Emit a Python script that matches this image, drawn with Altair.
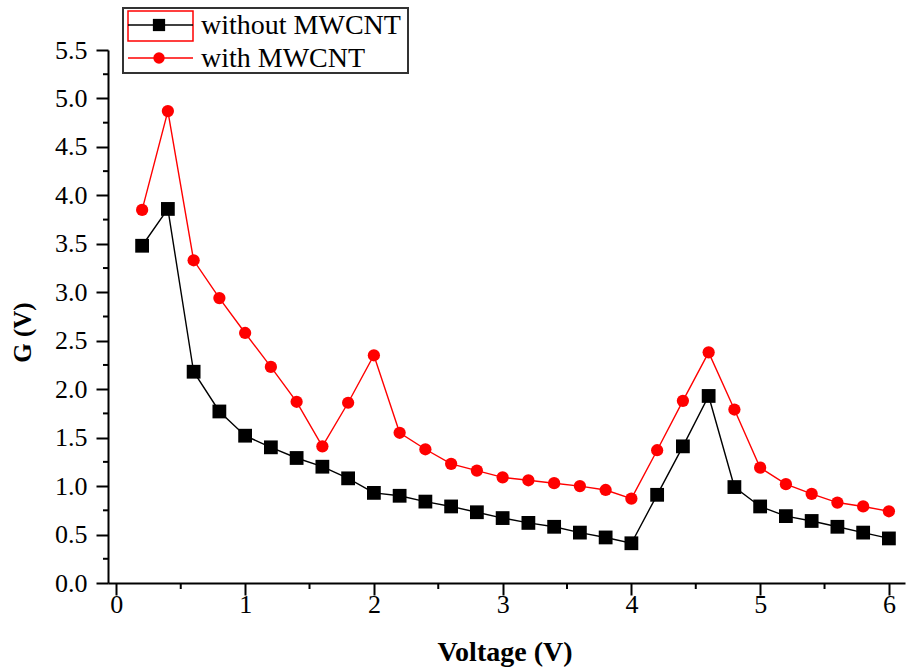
import altair as alt
import pandas as pd

# ---- data ----
voltage = [0.2, 0.4, 0.6, 0.8, 1.0, 1.2, 1.4, 1.6, 1.8, 2.0,
           2.2, 2.4, 2.6, 2.8, 3.0, 3.2, 3.4, 3.6, 3.8, 4.0,
           4.2, 4.4, 4.6, 4.8, 5.0, 5.2, 5.4, 5.6, 5.8, 6.0]
without_mwcnt = [3.48, 3.86, 2.18, 1.77, 1.52, 1.40, 1.29, 1.20, 1.08, 0.93,
                 0.90, 0.84, 0.79, 0.73, 0.67, 0.62, 0.58, 0.52, 0.47, 0.41,
                 0.91, 1.41, 1.93, 0.99, 0.79, 0.69, 0.64, 0.58, 0.52, 0.46]
with_mwcnt = [3.85, 4.87, 3.33, 2.94, 2.58, 2.23, 1.87, 1.41, 1.86, 2.35,
              1.55, 1.38, 1.23, 1.16, 1.09, 1.06, 1.03, 1.00, 0.96, 0.87,
              1.37, 1.88, 2.38, 1.79, 1.19, 1.02, 0.92, 0.83, 0.79, 0.74]
series_names = ["without MWCNT", "with MWCNT"]
series_colors = ["#000000", "#ff0000"]

x_major = [0, 1, 2, 3, 4, 5, 6]
x_minor = [0.5, 1.5, 2.5, 3.5, 4.5, 5.5]
y_major = [0.0, 0.5, 1.0, 1.5, 2.0, 2.5, 3.0, 3.5, 4.0, 4.5, 5.0, 5.5]
y_minor = [0.25, 0.75, 1.25, 1.75, 2.25, 2.75, 3.25, 3.75, 4.25, 4.75, 5.25]

FONT = "Liberation Serif"
W, H = 797, 533

df_wo = pd.DataFrame({"V": voltage, "G": without_mwcnt})
df_w = pd.DataFrame({"V": voltage, "G": with_mwcnt})

xscale = alt.Scale(domain=[-0.065, 6.125], nice=False, zero=False)
yscale = alt.Scale(domain=[0, 5.5], nice=False, zero=True)

xaxis = alt.Axis(title="Voltage (V)", values=x_major, format="d", grid=False,
                 tickSize=12, tickWidth=2, tickColor="black",
                 domainWidth=2, domainColor="black",
                 labelFont=FONT, labelFontSize=26, labelColor="black",
                 labelPadding=-4, labelFlush=False,
                 titleFont=FONT, titleFontSize=28, titleFontWeight="bold",
                 titleColor="black", titleBaseline="alphabetic",
                 titleX=W / 2 - 2, titleY=77)
yaxis = alt.Axis(title="G (V)", values=y_major, format=".1f", grid=False,
                 tickSize=12, tickWidth=2, tickColor="black",
                 domainWidth=2, domainColor="black",
                 labelFont=FONT, labelFontSize=26, labelColor="black",
                 labelPadding=9,
                 titleFont=FONT, titleFontSize=25, titleFontWeight="bold",
                 titleColor="black", titleBaseline="middle",
                 titleX=-86, titleY=282)


def series_layer(df, color, shape, size):
    x = alt.X("V:Q", scale=xscale, axis=xaxis)
    y = alt.Y("G:Q", scale=yscale, axis=yaxis)
    line = alt.Chart(df).mark_line(color=color, strokeWidth=1.4).encode(x=x, y=y)
    pts = alt.Chart(df).mark_point(shape=shape, filled=True, color=color,
                                   size=size, opacity=1).encode(x=x, y=y)
    return line + pts


red = series_layer(df_w, series_colors[1], "circle", 150)
black = series_layer(df_wo, series_colors[0], "square", 190)

# minor ticks
xm = alt.Chart(pd.DataFrame({"V": x_minor})).mark_rule(color="black", strokeWidth=2).encode(
    x=alt.X("V:Q", scale=xscale, axis=xaxis), y=alt.value(H), y2=alt.value(H + 6))
ym = alt.Chart(pd.DataFrame({"G": y_minor})).mark_rule(color="black", strokeWidth=2).encode(
    y=alt.Y("G:Q", scale=yscale, axis=yaxis), x=alt.value(-5), x2=alt.value(0))

# custom legend (pixel positions relative to plot origin)
one = pd.DataFrame({"a": [0]})
legend_layers = [
    alt.Chart(one).mark_rect(fill="white", stroke="#333333", strokeWidth=2).encode(
        x=alt.value(15), x2=alt.value(300), y=alt.value(-42), y2=alt.value(23)),
    alt.Chart(one).mark_rect(fill="white", fillOpacity=0, stroke="#ff0000", strokeWidth=1.5).encode(
        x=alt.value(20), x2=alt.value(85), y=alt.value(-39), y2=alt.value(-9)),
]
shapes = ["square", "circle"]
sizes = [150, 130]
for i, (name, col) in enumerate(zip(series_names, series_colors)):
    ly = -25 + 33 * i
    legend_layers.append(alt.Chart(one).mark_rule(color=col, strokeWidth=1.4).encode(
        x=alt.value(20), x2=alt.value(85), y=alt.value(ly)))
    legend_layers.append(alt.Chart(one).mark_point(shape=shapes[i], filled=True, color=col,
                                                   size=sizes[i], opacity=1).encode(
        x=alt.value(51), y=alt.value(ly)))
    legend_layers.append(alt.Chart(pd.DataFrame({"t": [name]})).mark_text(
        font=FONT, fontSize=28, color="black", align="left", baseline="alphabetic").encode(
        x=alt.value(93), y=alt.value(ly + 9), text="t:N"))

chart = alt.layer(red, black, xm, ym, *legend_layers).properties(
    width=W, height=H,
    autosize=alt.AutoSizeParams(type="none"),
    padding={"left": 108, "top": 50, "right": 1, "bottom": 87},
    background="white",
).configure_view(strokeWidth=0)

chart.save("out.html", embed_options={"renderer": "svg", "actions": False})
